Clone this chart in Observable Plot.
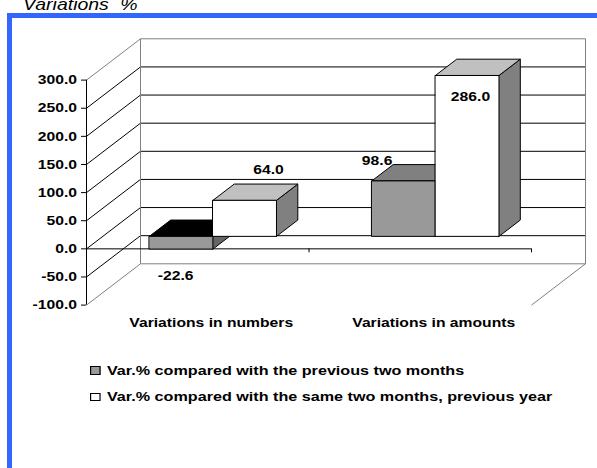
<!DOCTYPE html>
<html><head><meta charset="utf-8">
<script src="https://cdn.jsdelivr.net/npm/d3@7"></script>
<script src="https://cdn.jsdelivr.net/npm/@observablehq/plot@0.6"></script>
<style>
html,body{margin:0;padding:0;background:#fff;width:597px;height:468px;overflow:hidden;position:relative;font-family:"Liberation Sans",Arial,Helvetica,sans-serif;color:#000;}
#title{position:absolute;left:22.5px;top:-4.5px;font-size:16.5px;line-height:16.5px;font-style:italic;white-space:nowrap;word-spacing:5px;transform:scaleX(1.18);transform-origin:0 0;}
#frame{position:absolute;left:7px;top:13px;width:640px;height:520px;border-top:5px solid #3366ff;border-left:5px solid #3366ff;}
#chart{position:absolute;left:0;top:0;}
#legend{position:absolute;left:90px;top:363.6px;transform:scaleX(1.18);transform-origin:0 0;font-weight:bold;font-size:13.7px;line-height:13.7px;}
.row{display:flex;align-items:center;height:13.7px;margin-bottom:12.8px;white-space:nowrap;}
.sw{width:8.5px;height:8.5px;box-sizing:border-box;border:1px solid #000;margin-right:5.9px;flex:none;}
</style></head>
<body>
<div id="frame"></div>
<div id="title"></div>
<div id="chart"></div>
<div id="legend"></div>
<script>
// ---- data ----
const title = "Variations %";
const categories = ["Variations in numbers", "Variations in amounts"];
const seriesNames = [
  "Var.% compared with the previous two months",
  "Var.% compared with the same two months, previous year"
];
const prevTwoMonths = [-22.6, 98.6];
const sameMonthsPrevYear = [64.0, 286.0];
const yTicks = [-100, -50, 0, 50, 100, 150, 200, 250, 300];

// ---- style / layout ----
const frontColors = ["#999999", "#ffffff"];
const topColors = [v => (v < 0 ? "#000000" : "#808080"), () => "#c0c0c0"];
const sideColors = ["#666666", "#808080"];
const width = 597, height = 335;
const margin = {left: 86, right: 66, top: 79.6, bottom: 30.4};
const depthPx = {dx: 54, dy: 41.3};     // offset of the back wall
const DF = 0.29, DB = 0.685;            // bar front / back depth fraction
const W = 1 / 3.5;                      // bar width (gap width 150%)
const textStretch = 1.18;
// label nudges in px (order: category, series)
const labelNudge = [[-6, 26.5], [23.3, -31], [-27, -20.3], [2.8, 20.4]];

document.getElementById("title").textContent = title;

const xDomain = [0, categories.length];
const yDomain = [yTicks[0], yTicks[yTicks.length - 1]];
const pxPerX = (width - margin.left - margin.right) / (xDomain[1] - xDomain[0]);
const pxPerY = (height - margin.top - margin.bottom) / (yDomain[1] - yDomain[0]);
const kx = depthPx.dx / pxPerX, ky = depthPx.dy / pxPerY;

const series = [prevTwoMonths, sameMonthsPrevYear];
const bars = [];
categories.forEach((c, i) => series.forEach((vals, j) => {
  const v = vals[i];
  const x0 = i + 0.5 - W + j * W;
  bars.push({i, j, v, x0: x0 + DF * kx, x1: x0 + W + DF * kx, base: DF * ky});
}));
const D = (DB - DF) * kx, E = (DB - DF) * ky;

const faceMarks = [];
const face = (pts, fill) => faceMarks.push(Plot.area(pts.map(([x, y1, y2]) => ({x, y1, y2})),
  {x1: "x", y1: "y1", y2: "y2", fill, stroke: "#000", strokeWidth: 1}));
// sides
for (const b of bars) {
  face([[b.x1, b.base, b.v + b.base], [b.x1 + D, b.base + E, b.v + b.base + E]], sideColors[b.j]);
}
// tops
for (const b of bars) {
  const t = Math.max(0, b.v) + b.base;
  face([[b.x0, t, t], [b.x0 + D, t, t + E], [b.x1, t, t + E], [b.x1 + D, t + E, t + E]], topColors[b.j](b.v));
}
// fronts
for (const b of bars) {
  face([[b.x0, b.base, b.v + b.base], [b.x1, b.base, b.v + b.base]], frontColors[b.j]);
}

const isEdge = t => t === yDomain[0] || t === yDomain[1];
const backGrid = yTicks.map(t => ({x1: xDomain[0] + kx, x2: xDomain[1] + kx, y1: t + ky, y2: t + ky, edge: isEdge(t)}));
const sideGrid = yTicks.map(t => ({x1: xDomain[0], x2: xDomain[0] + kx, y1: t, y2: t + ky, edge: isEdge(t)}));
const wallEdges = [
  {x1: xDomain[0] + kx, x2: xDomain[0] + kx, y1: yDomain[0] + ky, y2: yDomain[1] + ky},
  {x1: xDomain[1] + kx, x2: xDomain[1] + kx, y1: yDomain[0] + ky, y2: yDomain[1] + ky},
  {x1: xDomain[1] + kx, x2: xDomain[1], y1: yDomain[0] + ky, y2: yDomain[0]}
];
const linkOpts = {x1: "x1", x2: "x2", y1: "y1", y2: "y2"};

const labelMarks = bars.map((b, k) => Plot.text([b], {
  x: d => (d.x0 + d.x1) / 2, y: d => d.v + d.base,
  text: d => d.v.toFixed(1), dx: labelNudge[k][0], dy: labelNudge[k][1]
}));

const svg = Plot.plot({
  width, height,
  marginLeft: margin.left, marginRight: margin.right, marginTop: margin.top, marginBottom: margin.bottom,
  x: {domain: xDomain, axis: null},
  y: {domain: yDomain, label: null},
  style: {fontFamily: "'Liberation Sans', Arial, Helvetica, sans-serif", fontSize: "13.3px", fontWeight: "bold",
          background: "transparent", overflow: "visible", color: "#000"},
  marks: [
    Plot.link(backGrid.filter(d => !d.edge), {...linkOpts, stroke: "#000", strokeWidth: 1}),
    Plot.link(sideGrid.filter(d => !d.edge), {...linkOpts, stroke: "#000", strokeWidth: 1}),
    Plot.link(backGrid.filter(d => d.edge), {...linkOpts, stroke: "#808080", strokeWidth: 1}),
    Plot.link(sideGrid.filter(d => d.edge), {...linkOpts, stroke: "#808080", strokeWidth: 1}),
    Plot.link(wallEdges, {...linkOpts, stroke: "#808080", strokeWidth: 1}),
    Plot.ruleY([0], {x1: xDomain[0], x2: xDomain[1], stroke: "#000"}),
    Plot.ruleX(d3.range(1, categories.length + 1), {y1: 0, y2: 0, insetBottom: -4, stroke: "#000"}),
    Plot.ruleX([xDomain[0]], {y1: yDomain[0], y2: yDomain[1], stroke: "#000"}),
    Plot.axisY({ticks: yTicks, tickFormat: d => d.toFixed(1), tickSize: 5, tickPadding: 4.5, anchor: "left", label: null}),
    ...faceMarks,
    ...labelMarks,
    Plot.text(categories, {x: (d, i) => i + 0.5, y: yDomain[0], text: d => d, dx: 13.5, dy: 18})
  ]
});
svg.querySelectorAll("text").forEach(t => {
  const tr = t.getAttribute("transform") || "";
  t.setAttribute("transform", tr + ` scale(${textStretch},1)`);
});
document.getElementById("chart").appendChild(svg);

const legend = document.getElementById("legend");
seriesNames.forEach((name, j) => {
  const row = document.createElement("div");
  row.className = "row";
  const sw = document.createElement("span");
  sw.className = "sw";
  sw.style.background = frontColors[j];
  const tx = document.createElement("span");
  tx.textContent = name;
  row.appendChild(sw); row.appendChild(tx);
  legend.appendChild(row);
});
</script>
</body></html>
